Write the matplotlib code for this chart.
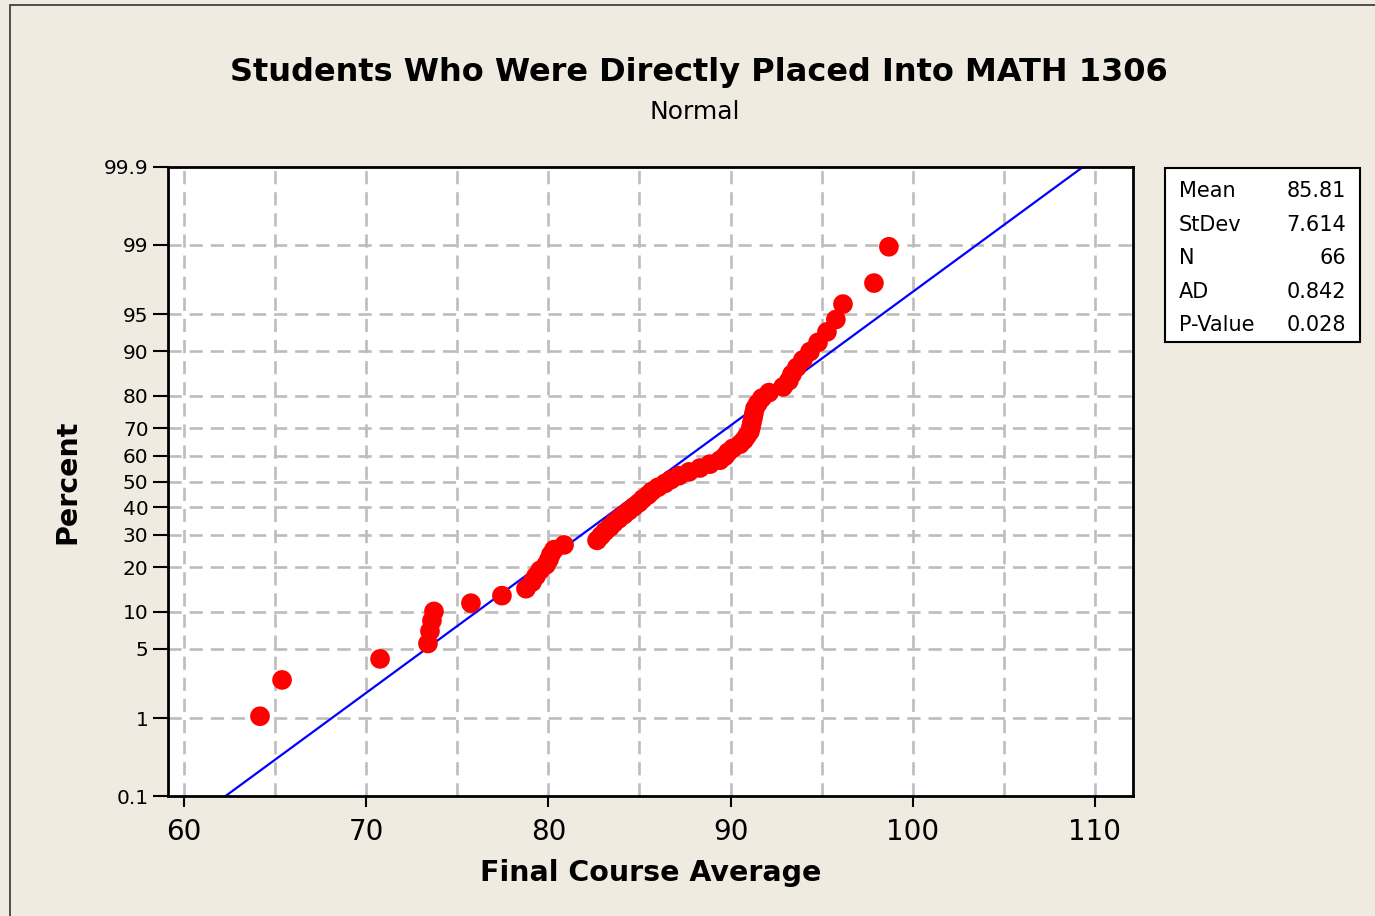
import matplotlib
matplotlib.use("Agg")
import matplotlib.pyplot as plt
from matplotlib.patches import Rectangle
import numpy as np
from statistics import NormalDist

# ---- data ----
final_course_average = [
    64.17, 65.38, 70.76, 73.39, 73.50, 73.61, 73.72, 75.75, 77.45, 78.77,
    79.10, 79.32, 79.54, 79.87, 80.03, 80.14, 80.31, 80.86, 82.67, 82.89,
    83.11, 83.38, 83.60, 83.87, 84.15, 84.42, 84.70, 84.97, 85.19, 85.47,
    85.69, 86.02, 86.40, 86.73, 87.17, 87.72, 88.32, 88.87, 89.42, 89.69,
    89.86, 90.13, 90.52, 90.74, 90.90, 91.06, 91.12, 91.17, 91.23, 91.28,
    91.34, 91.50, 91.72, 92.11, 92.88, 93.20, 93.37, 93.64, 93.97, 94.36,
    94.80, 95.29, 95.78, 96.17, 97.87, 98.69,
]
fit_mean = 85.81
fit_stdev = 7.614
stats_labels = ["Mean", "StDev", "N", "AD", "P-Value"]
stats_values = ["85.81", "7.614", "66", "0.842", "0.028"]
y_tick_percents = [0.1, 1, 5, 10, 20, 30, 40, 50, 60, 70, 80, 90, 95, 99, 99.9]
y_tick_labels = ["0.1", "1", "5", "10", "20", "30", "40", "50", "60", "70",
                 "80", "90", "95", "99", "99.9"]
x_ticks = [60, 70, 80, 90, 100, 110]
x_grid = [60, 65, 70, 75, 80, 85, 90, 95, 100, 105, 110]

nd = NormalDist()
def probit(p):
    return nd.inv_cdf(p / 100.0)

# plotting positions (Minitab median ranks)
x = np.sort(np.array(final_course_average))
n = len(x)
ranks = np.arange(1, n + 1)
pct = (ranks - 0.3) / (n + 0.4) * 100
z = np.array([probit(p) for p in pct])

plt.rcParams['font.family'] = ['DejaVu Sans']
bg = '#EFEBE1'
fig = plt.figure(figsize=(13.75, 9.16), dpi=100, facecolor=bg)

# outer frame
fig.patches.append(Rectangle((10 / 1375, -0.1), 1.2, (916 - 5) / 916 + 0.1,
                             transform=fig.transFigure, fill=False,
                             edgecolor='#333333', linewidth=1.2))

ax = fig.add_axes([168 / 1375, 1 - 796 / 916, 965 / 1375, 629 / 916])
ax.set_facecolor('white')

zlo, zhi = probit(0.1), probit(99.9)
ax.set_xlim(59.12, 112.09)
ax.set_ylim(zlo, zhi)

# grid
gcol = '#BDBDBD'
gls = (0, (5, 3))
for gx in x_grid:
    ax.axvline(gx, color=gcol, linestyle=gls, linewidth=1.9, zorder=0)
for p in y_tick_percents[1:-1]:
    ax.axhline(probit(p), color=gcol, linestyle=gls, linewidth=1.9, zorder=0)

# fitted line
xl = np.array([fit_mean + zlo * fit_stdev, fit_mean + zhi * fit_stdev])
zl = (xl - fit_mean) / fit_stdev
ax.plot(xl, zl, color='#0000FF', linewidth=1.6, zorder=2)

# points
ax.scatter(x, z, s=200, color='#FF0000', edgecolors='none', zorder=3)

ax.set_yticks([probit(p) for p in y_tick_percents])
ax.set_yticklabels(y_tick_labels, fontsize=14.5)
ax.set_xticks(x_ticks)
ax.set_xticklabels([str(t) for t in x_ticks], fontsize=20)
ax.tick_params(axis='y', direction='out', length=11, width=1.5, pad=3)
ax.tick_params(axis='x', direction='out', length=8, width=1.5, pad=8)
for s in ax.spines.values():
    s.set_linewidth(2)
    s.set_color('black')

ax.set_xlabel("Final Course Average", fontsize=20.5, fontweight='bold', labelpad=9)
ax.set_ylabel("Percent", fontsize=20.5, fontweight='bold', labelpad=16)

fig.text(699 / 1375, 1 - 72 / 916, "Students Who Were Directly Placed Into MATH 1306",
         ha='center', va='center', fontsize=23, fontweight='bold')
fig.text(695 / 1375, 1 - 112 / 916, "Normal", ha='center', va='center', fontsize=18)

# stats box
fig.patches.append(Rectangle((1165 / 1375, 1 - 342 / 916), 195 / 1375, 174 / 916,
                             transform=fig.transFigure, facecolor='white',
                             edgecolor='black', linewidth=1.5))
row_y = [191, 225, 258, 292, 325]
for lab, val, yy in zip(stats_labels, stats_values, row_y):
    fig.text(1179 / 1375, 1 - yy / 916, lab, ha='left', va='center', fontsize=15)
    fig.text(1346 / 1375, 1 - yy / 916, val, ha='right', va='center', fontsize=15)

fig.savefig("out.png", dpi=100, facecolor=bg)
